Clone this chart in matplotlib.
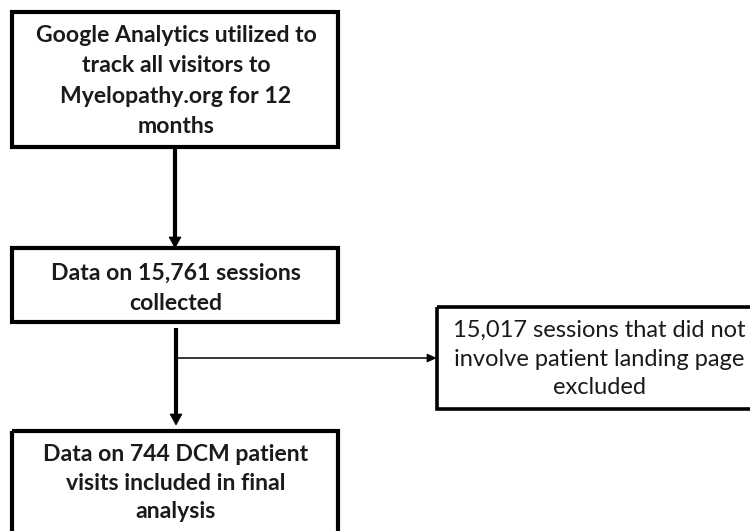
import matplotlib
matplotlib.use("Agg")
import matplotlib.pyplot as plt
from matplotlib.patches import Rectangle, Polygon

box_texts = [
    "Google Analytics utilized to\ntrack all visitors to\nMyelopathy.org for 12\nmonths",
    "Data on 15,761 sessions\ncollected",
    "15,017 sessions that did not\ninvolve patient landing page\nexcluded",
    "Data on 744 DCM patient\nvisits included in final\nanalysis",
]
box_bold = [True, True, False, True]

fig = plt.figure(figsize=(7.5, 5.31), dpi=100)
ax = fig.add_axes([0, 0, 1, 1])
ax.set_xlim(0, 750)
ax.set_ylim(531, 0)
ax.axis("off")

# boxes: (x0, y0, x1, y1) in pixel space
boxes = [(12, 12, 338, 147), (12, 248, 338, 322), (437, 307, 770, 409), (12, 431, 338, 560)]
text_centers = [(176, 81), (176, 288), (599, 359), (176, 483)]
spacings = [1.55, 1.55, 1.45, 1.47]
lws = [3.0, 3.0, 2.6, 3.0]

for (x0, y0, x1, y1), lw in zip(boxes, lws):
    ax.add_patch(Rectangle((x0, y0), x1 - x0, y1 - y0, fill=False, ec="black", lw=lw, zorder=2))

for txt, (cx, cy), b, ls in zip(box_texts, text_centers, box_bold, spacings):
    ax.text(cx, cy, txt, ha="center", va="center", fontsize=16.6 if b else 17.0,
            fontweight="bold" if b else "normal", family="Lato",
            linespacing=ls, color="#1a1a1a")

def arrow_head(x, y, direction, w=6, l=11):
    if direction == "down":
        pts = [(x - w, y - l), (x + w, y - l), (x, y)]
    else:
        pts = [(x - l, y - w), (x - l, y + w), (x, y)]
    ax.add_patch(Polygon(pts, closed=True, fc="black", ec="black", lw=0.5, zorder=3))

# arrow 1
ax.plot([175, 175], [149, 238], color="black", lw=3.0, solid_capstyle="butt")
arrow_head(175, 248, "down")
# arrow 2
ax.plot([176, 176], [328, 415], color="black", lw=3.0, solid_capstyle="butt")
arrow_head(176, 425, "down")
# branch
ax.plot([176, 428], [358, 358], color="black", lw=1.1, solid_capstyle="butt")
arrow_head(436, 358, "right", w=4, l=9)

fig.savefig("out.png", dpi=100, facecolor="white")
